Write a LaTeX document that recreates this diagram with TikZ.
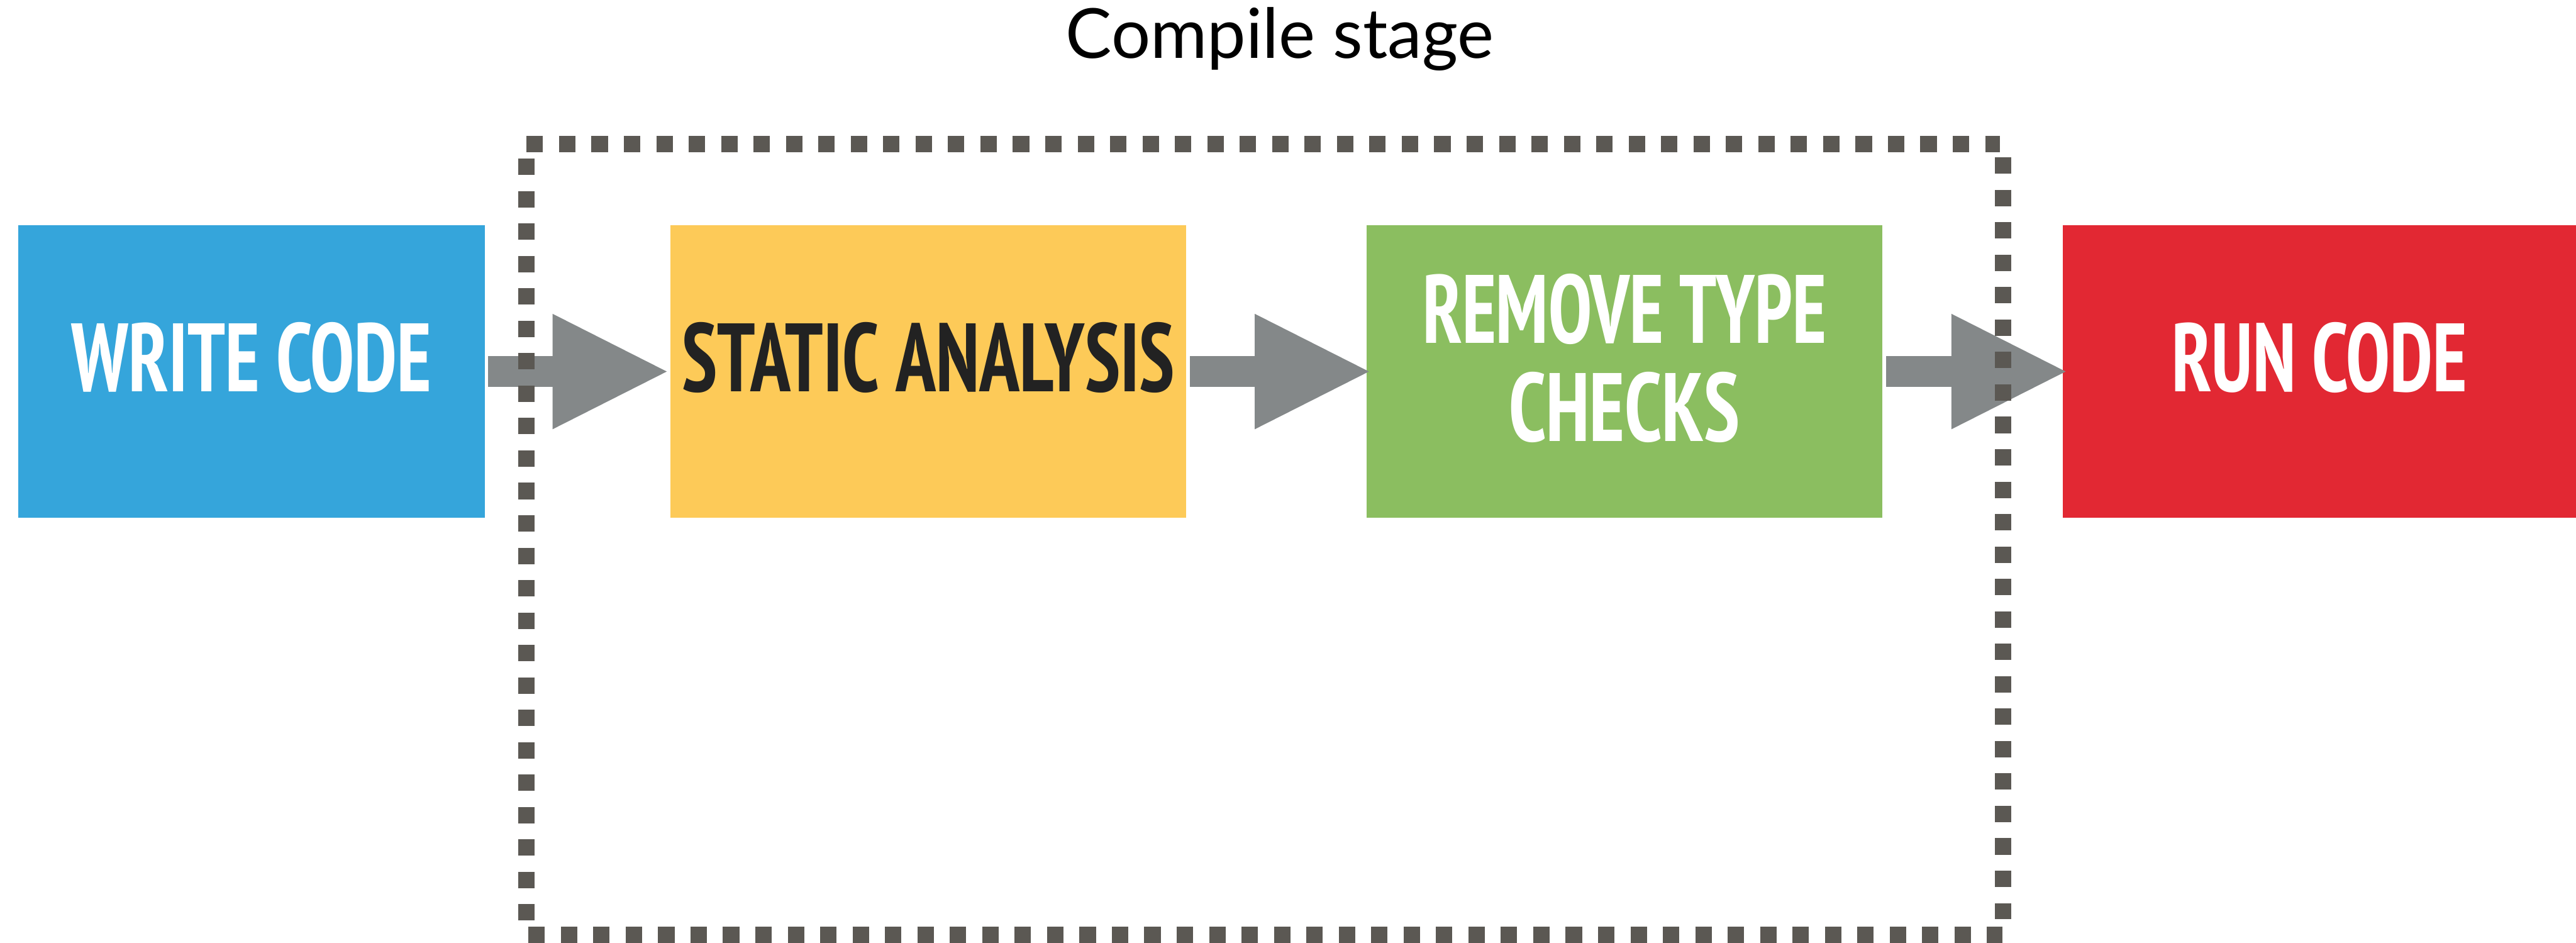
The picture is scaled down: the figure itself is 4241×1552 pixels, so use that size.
\documentclass[tikz,border=0pt]{standalone}
\usepackage{fontspec}
\usetikzlibrary{arrows.meta}
\IfFontExistsTF{PT Sans Narrow Bold}{\newfontfamily\lblfont{PT Sans Narrow Bold}}{\newfontfamily\lblfont{PT Sans Bold}}
\newfontfamily\titlefont{Lato}
\definecolor{cblue}{HTML}{35A5DB}
\definecolor{cyellow}{HTML}{FDCA58}
\definecolor{cgreen}{HTML}{8BBE60}
\definecolor{cred}{HTML}{E22833}
\definecolor{carrow}{HTML}{848889}
\definecolor{cdots}{HTML}{5B5853}
\definecolor{cdark}{HTML}{222222}
\newcommand\boxlbl[3]{\smash{\raisebox{#1}{\makebox[0pt]{\resizebox{#2}{1.14cm}{\lblfont #3}}}}}
\begin{document}
\begin{tikzpicture}[x={(0.01cm,0)}, y={(0,-0.01cm)},
  stagebox/.style={rectangle, inner sep=0pt, outer sep=0pt, minimum height=4.81cm, text=white},
  flowarrow/.style={carrow, line width=0.505cm, -{Triangle[length=1.88cm, width=1.9cm, line width=0pt]}},
  dotline/.style={cdots, line width=0.27cm, dash pattern=on 0.27cm off 0.2633cm}]
\fill[white] (0,0) rectangle (4241,1552);
\useasboundingbox (0,0) rectangle (4241,1552);

\node[anchor=base, inner sep=0pt] (title) at (2107,96) {\resizebox{7.04cm}{!}{\titlefont Compile stage}};

\node[stagebox, fill=cblue, minimum width=7.68cm] (write) at (414,611.5) {\boxlbl{-0.335cm}{5.92cm}{WRITE CODE}};
\node[stagebox, fill=cyellow, minimum width=8.49cm, text=cdark] (static) at (1528.5,611.5) {\boxlbl{-0.335cm}{8.10cm}{STATIC ANALYSIS}};
\node[stagebox, fill=cgreen, minimum width=8.49cm] (remove) at (2674.5,611.5) {\boxlbl{0.465cm}{6.64cm}{REMOVE TYPE}\boxlbl{-1.145cm}{3.80cm}{CHECKS}};
\node[stagebox, fill=cred, minimum width=8.45cm] (run) at (3818.5,611.5) {\boxlbl{-0.335cm}{4.86cm}{RUN CODE}};

\draw[flowarrow] ([xshift=0.05cm]write.east) -- ([xshift=-0.06cm]static.west);
\draw[flowarrow] ([xshift=0.06cm]static.east) -- ([xshift=0.04cm]remove.west);
\draw[flowarrow] ([xshift=0.06cm]remove.east) -- ([xshift=0.05cm]run.west);

\coordinate (tl) at (867,237.5);
\coordinate (tr) at (3293,237.5);
\coordinate (bl) at (870,1538.5);
\coordinate (br) at (3297,1538.5);
\coordinate (lt) at (866.5,261);
\coordinate (lb) at (866.5,1515);
\coordinate (rt) at (3297.5,259);
\coordinate (rb) at (3297.5,1513);
\draw[dotline] (tl) -- (tr);
\draw[dotline] (bl) -- (br);
\draw[dotline] (lt) -- (lb);
\draw[dotline] (rt) -- (rb);
\end{tikzpicture}
\end{document}
